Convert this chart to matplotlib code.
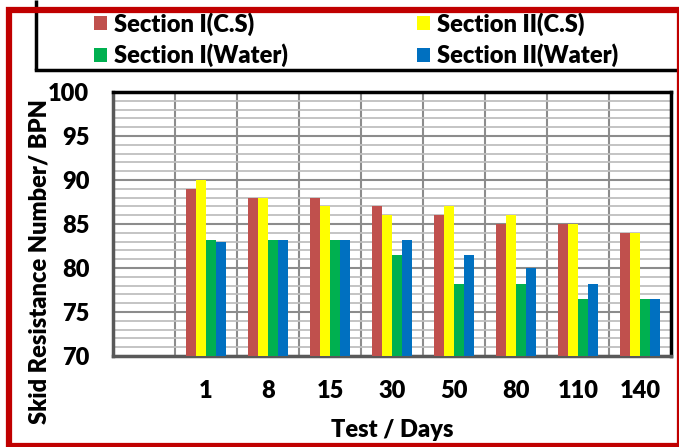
import matplotlib
matplotlib.use("Agg")
import matplotlib.pyplot as plt
from matplotlib.patches import Rectangle, Patch
from matplotlib.lines import Line2D
import numpy as np

plt.rcParams['font.family'] = ['Lato', 'DejaVu Sans']
FW = 'heavy'
FS = 17

days = ["", "1", "8", "15", "30", "50", "80", "110", "140"]
series_names = ["Section I(C.S)", "Section II(C.S)", "Section I(Water)", "Section II(Water)"]
sec1_cs = [70, 89, 88, 88, 87, 86, 85, 85, 84]
sec2_cs = [70, 90, 88, 87, 86, 87, 86, 85, 84]
sec1_water = [70, 83.2, 83.2, 83.2, 81.5, 78.2, 78.2, 76.5, 76.5]
sec2_water = [70, 82.9, 83.2, 83.2, 83.2, 81.5, 80, 78.2, 76.5]
colors = ["#C0504D", "#FFFF00", "#00B050", "#0070C0"]

W, H = 679, 447
fig = plt.figure(figsize=(W / 100, H / 100), dpi=100)
ax = fig.add_axes([113 / W, 1 - 356 / H, 558 / W, 264 / H])

x = np.arange(len(days))
bw = 0.162
all_series = [sec1_cs, sec2_cs, sec1_water, sec2_water]
for i, (vals, c) in enumerate(zip(all_series, colors)):
    ax.bar(x + (i - 1.5) * bw, vals, width=bw, color=c, zorder=3, linewidth=0)

ax.set_ylim(70, 100)
ax.set_xlim(-0.5, len(days) - 0.5)
ax.set_yticks(np.arange(70, 101, 5))
ax.set_yticks(np.arange(70, 101, 1), minor=True)
ax.set_xticks(x)
ax.set_xticklabels(days)
ax.set_xticks(np.arange(0.5, len(days) - 0.5, 1), minor=True)

ax.grid(which='minor', axis='y', color='#BFBFBF', lw=1.3, zorder=0)
ax.grid(which='major', axis='y', color='#8C8C8C', lw=1.5, zorder=1)
ax.grid(which='minor', axis='x', color='#8C8C8C', lw=1.5, zorder=1)
ax.set_axisbelow(True)

ax.tick_params(axis='both', which='both', length=0)
ax.tick_params(axis='x', pad=17, labelsize=FS)
ax.tick_params(axis='y', pad=17, labelsize=FS)
for lab in ax.get_xticklabels() + ax.get_yticklabels():
    lab.set_fontweight(FW)

for s in ['top', 'right']:
    ax.spines[s].set_color('black')
    ax.spines[s].set_linewidth(2.5)
for s in ['left', 'bottom']:
    ax.spines[s].set_color('#595959')
    ax.spines[s].set_linewidth(2.5)

fig.text(40 / W, 1 - 262 / H, "Skid Resistance Number/ BPN", rotation=90,
         ha='center', va='center', fontsize=FS, fontweight=FW)
fig.text(392 / W, 1 - 430 / H, "Test / Days", ha='center', va='center',
         fontsize=FS, fontweight=FW)

# legend
handles = [Patch(facecolor=c, edgecolor='none') for c in colors]
common = dict(frameon=False, handlelength=0.55, handleheight=0.55,
              handletextpad=0.3, labelspacing=0.34, borderpad=0, borderaxespad=0,
              loc='upper left', prop={'weight': FW, 'size': FS})
leg1 = fig.legend([handles[0], handles[2]], [series_names[0], series_names[2]],
                  bbox_to_anchor=(94 / W, 1 - 12 / H), **common)
leg2 = fig.legend([handles[1], handles[3]], [series_names[1], series_names[3]],
                  bbox_to_anchor=(417 / W, 1 - 12 / H), **common)

# legend box (black)
fig.add_artist(Line2D([36 / W, 36 / W], [1 - 70 / H, 1.0], color='black', lw=2.5,
                      transform=fig.transFigure, solid_capstyle='butt'))
fig.add_artist(Line2D([36 / W, 1.0], [1 - 70 / H, 1 - 70 / H], color='black', lw=2.5,
                      transform=fig.transFigure, solid_capstyle='projecting'))

# red outer border
fig.add_artist(Rectangle((9 / W, 1 / H), (679.5 - 9) / W, (437 - 1) / H, fill=False,
                         edgecolor='#C00000', lw=4.5, transform=fig.transFigure,
                         clip_on=False, zorder=10))

fig.savefig("out.png", dpi=100)
